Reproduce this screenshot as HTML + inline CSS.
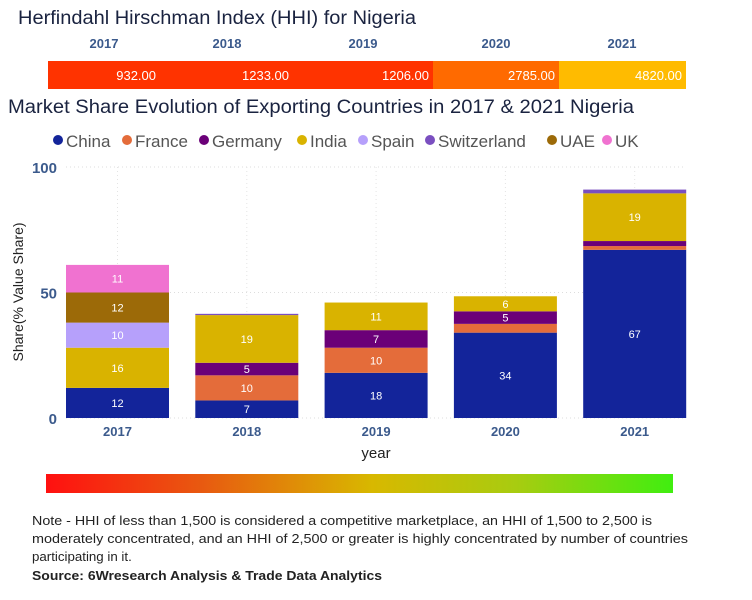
<!DOCTYPE html>
<html><head><meta charset="utf-8"><style>
body{margin:0;background:#fff;font-family:"Liberation Sans",sans-serif}
#wrap{position:relative;width:752px;height:600px;overflow:hidden}
</style></head><body>
<div id="wrap">
<svg id="svg" width="752" height="600" xmlns="http://www.w3.org/2000/svg" font-family="Liberation Sans, sans-serif">
<text x="18" y="24" font-size="19" fill="#1a2340" textLength="398" lengthAdjust="spacingAndGlyphs">Herfindahl Hirschman Index (HHI) for Nigeria</text>
<g id="hhi"></g>
<text x="8" y="113" font-size="19" fill="#1a2340" textLength="626" lengthAdjust="spacingAndGlyphs">Market Share Evolution of Exporting Countries in 2017 &amp; 2021 Nigeria</text>
<g id="legend"></g>
<g id="chart"></g>
<defs><linearGradient id="grad" x1="0" x2="1"><stop offset="0" stop-color="#ff1010"/><stop offset="0.25" stop-color="#e85a10"/><stop offset="0.52" stop-color="#d8b800"/><stop offset="0.75" stop-color="#a8cc10"/><stop offset="1" stop-color="#40ee10"/></linearGradient></defs>
<rect x="46" y="474" width="627" height="19" fill="url(#grad)"/>
<g font-size="13.3" fill="#222">
<text x="32" y="525" textLength="620" lengthAdjust="spacingAndGlyphs">Note - HHI of less than 1,500 is considered a competitive marketplace, an HHI of 1,500 to 2,500 is</text>
<text x="32" y="543" textLength="656" lengthAdjust="spacingAndGlyphs">moderately concentrated, and an HHI of 2,500 or greater is highly concentrated by number of countries</text>
<text x="32" y="561">participating in it.</text>
<text x="32" y="580" font-weight="bold" textLength="350" lengthAdjust="spacingAndGlyphs">Source: 6Wresearch Analysis &amp; Trade Data Analytics</text>
</g>
</svg>
</div>
<script>
const NS="http://www.w3.org/2000/svg";
const hhiYears=["2017","2018","2019","2020","2021"];
const hhiValues=[932,1233,1206,2785,4820];
const years=["2017","2018","2019","2020","2021"];
const countries=["China","France","Germany","India","Spain","Switzerland","UAE","UK"];
const colors=["#13249a","#e46c3a","#6b0078","#d9b300","#b6a0fb","#7a4fc0","#9c6a08","#f072d0"];
const china=[12,7,18,34,67];
const france=[0,10,10,3.5,1.5];
const germany=[0,5,7,5,2];
const india=[16,19,11,6,19];
const spain=[10,0,0,0,0];
const switzerland=[0,0.5,0,0,1.5];
const uae=[12,0,0,0,0];
const uk=[11,0,0,0,0];
const series=[china,france,germany,india,spain,switzerland,uae,uk];
const yTicks=[0,50,100];
function el(t,a,p){const e=document.createElementNS(NS,t);for(const k in a)e.setAttribute(k,a[k]);(p||svg).appendChild(e);return e;}
const svg=document.getElementById('svg');
// HHI bar
const hhiG=document.getElementById('hhi');
const hx0=48;
const segW=[112,133,140,126,127];
const labelX=[104,227,363,496,622];
function hhiColor(v){return v<1500?"#ff3300":v<4000?"#ff6a00":"#ffbb00";}
let hx=hx0;
hhiYears.forEach((y,i)=>{
 const w=segW[i];
 const r=el('rect',{x:hx,y:61,width:w,height:28,fill:hhiColor(hhiValues[i])},hhiG);
 
 
 const t=el('text',{x:hx+w-4,y:80,'font-size':13,fill:'#fff','text-anchor':'end'},hhiG);t.textContent=hhiValues[i].toFixed(2);
 
 
 const l=el('text',{x:labelX[i],y:48,'font-size':13,'font-weight':'bold',fill:'#3b5a8c','text-anchor':'middle'},hhiG);l.textContent=y;
 
 
 hx+=w;
});
// legend
const lg=document.getElementById('legend');
const lx=[58,127,204,302,363,430,552,607];
countries.forEach((c,i)=>{
 const g=el('g',{},lg);
 
 
 el('circle',{cx:lx[i],cy:140,r:5,fill:colors[i]},g);
 const t=el('text',{x:lx[i]+8,y:147,'font-size':17,fill:'#555'},g);t.textContent=c;
});
// chart
const ch=document.getElementById('chart');
const y0=418,pxPer=2.51;
const yScale=v=>y0-v*pxPer;
const xLeft=66,step=129.3,bw=103;
const xScale=i=>xLeft+i*step;
yTicks.forEach(v=>{
 const gl=el('line',{x1:66,x2:686,y1:yScale(v),y2:yScale(v),stroke:'#ddd','stroke-dasharray':'1 3'},ch);
 
 
 const t=el('text',{x:57,y:yScale(v)+6,'font-size':15,'font-weight':'bold',fill:'#3b5a8c','text-anchor':'end'},ch);t.textContent=v;
 
 
});
years.forEach((y,i)=>{
 const gx=xScale(i)+bw/2;
 el('line',{x1:gx,x2:gx,y1:yScale(100),y2:y0,stroke:'#e4e4e4','stroke-dasharray':'1 3'},ch);
});
years.forEach((y,i)=>{
 let acc=0;const x=xScale(i);
 series.forEach((s,k)=>{
  const v=s[i];if(!v)return;
  const r=el('rect',{x:x,y:yScale(acc+v),width:bw,height:v*pxPer,fill:colors[k]},ch);
  
  
  if(v>=5){const t=el('text',{x:x+bw/2,y:yScale(acc+v/2)+4,'font-size':11,fill:'#fff','text-anchor':'middle'},ch);t.textContent=Math.round(v);}
  acc+=v;
 });
 const t=el('text',{x:x+bw/2,y:436,'font-size':13,'font-weight':'bold',fill:'#3b5a8c','text-anchor':'middle'},ch);t.textContent=y;
 
 
});
const xt=el('text',{x:376,y:458,'font-size':15,fill:'#222','text-anchor':'middle'},ch);xt.textContent='year';


const yt=el('text',{x:0,y:0,'font-size':14,fill:'#222','text-anchor':'middle',transform:'translate(23,292) rotate(-90)'},ch);yt.textContent='Share(% Value Share)';


</script>
</body></html>
